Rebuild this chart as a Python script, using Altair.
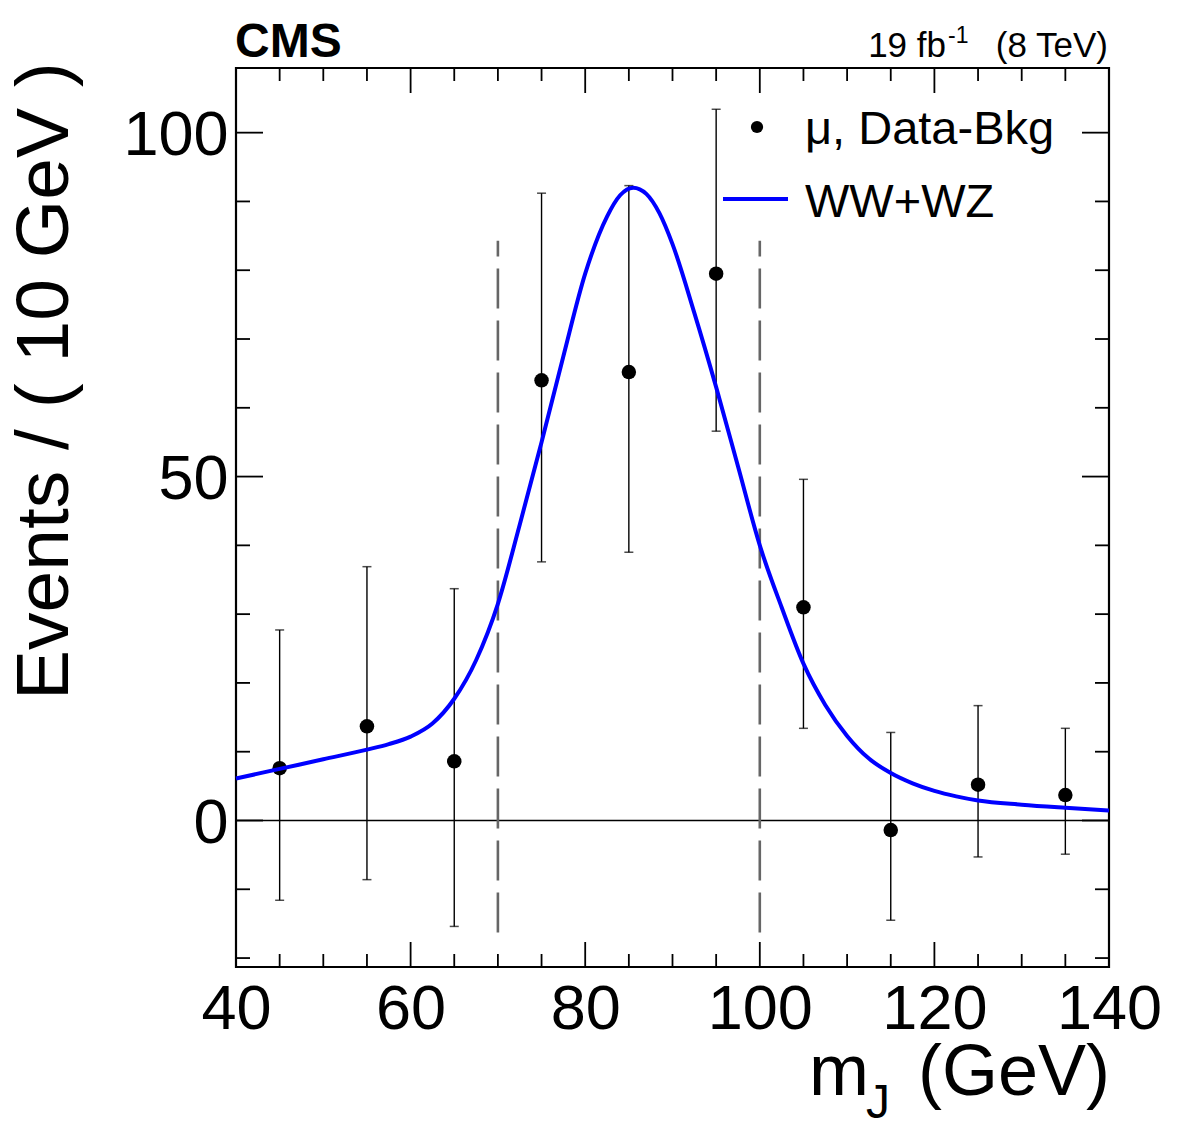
import altair as alt
import pandas as pd

# Data minus background, muon channel (10 GeV bins)
mass_bins = [45, 55, 65, 75, 85, 95, 105, 115, 125, 135]
events = [7.6, 13.7, 8.6, 64.0, 65.2, 79.5, 31.0, -1.4, 5.2, 3.7]
err_low = [-11.6, -8.6, -15.4, 37.6, 39.0, 56.6, 13.4, -14.5, -5.3, -4.9]
err_high = [27.7, 36.9, 33.7, 91.2, 92.3, 103.4, 49.6, 12.8, 16.7, 13.4]

# Fitted WW+WZ shape
fit_mass = [40, 45, 50, 55, 57.5, 60, 62.5, 65, 67.5, 70, 72.5, 75, 77.5, 80,
            82.5, 84, 85.5, 87, 88.5, 90, 92.5, 95, 97.5, 100, 102.5, 105,
            107.5, 110, 112.5, 115, 117.5, 120, 122.5, 125, 130, 135, 140]
fit_events = [6.1, 7.5, 8.9, 10.3, 11.1, 12.2, 14.1, 17.7, 23.3, 31.5, 43.0,
              55.0, 67.5, 79.5, 87.8, 90.9, 92.0, 91.1, 88.3, 83.8, 73.8, 63.0,
              51.5, 40.0, 31.0, 22.8, 16.8, 12.3, 9.0, 6.9, 5.4, 4.3, 3.5, 2.9,
              2.3, 1.85, 1.45]

# Signal window in jet mass
window_edges = [70, 100]
window_low = -16.3
window_high = 84.3

x_range = [40, 140]
y_range = [-21.3, 109.4]
x_labels = [40, 60, 80, 100, 120, 140]
y_labels = [0, 50, 100]
x_major = [60, 80, 100, 120]
x_minor = [v for v in range(45, 140, 5) if v % 20 != 0]
y_major = [0, 50, 100]
y_minor = [-20, -10, 10, 20, 30, 40, 60, 70, 80, 90]

W, H = 873, 899
FONT = "Liberation Sans"

xscale = alt.Scale(domain=x_range, nice=False, zero=False)
yscale = alt.Scale(domain=y_range, nice=False, zero=False)
x_axis = alt.Axis(values=x_labels, title=None, grid=False, domain=False,
                  ticks=False, tickSize=0, labelFontSize=63, labelFont=FONT,
                  labelColor="black", labelPadding=11, labelFlush=False,
                  labelOverlap=False)
y_axis = alt.Axis(values=y_labels, title=None, grid=False, domain=False,
                  ticks=False, tickSize=0, labelFontSize=63, labelFont=FONT,
                  labelColor="black", labelPadding=8, labelFlush=False,
                  labelOverlap=False, labelOffset=3)


def X(field):
    return alt.X(field, type="quantitative", scale=xscale, axis=x_axis)


def Y(field):
    return alt.Y(field, type="quantitative", scale=yscale, axis=y_axis)


pts = pd.DataFrame({"m": mass_bins, "n": events, "lo": err_low, "hi": err_high})
fit = pd.DataFrame({"m": fit_mass, "n": fit_events})
win = pd.DataFrame({"m": window_edges, "lo": [window_low] * 2, "hi": [window_high] * 2})

zero_line = alt.Chart(pd.DataFrame({"m0": [x_range[0]], "m1": [x_range[1]], "z": [0]})).mark_rule(
    color="black", strokeWidth=1.3).encode(x=X("m0"), x2="m1", y=Y("z"))

window = alt.Chart(win).mark_rule(color="#666666", strokeWidth=2.6, strokeDash=[40, 12]).encode(
    x=X("m"), y=Y("lo"), y2="hi")

bars = alt.Chart(pts).mark_rule(color="black", strokeWidth=1.4).encode(
    x=X("m"), y=Y("lo"), y2="hi")
caps_lo = alt.Chart(pts).mark_tick(color="black", orient="horizontal", size=9, thickness=1.5).encode(
    x=X("m"), y=Y("lo"))
caps_hi = alt.Chart(pts).mark_tick(color="black", orient="horizontal", size=9, thickness=1.5).encode(
    x=X("m"), y=Y("hi"))
dots = alt.Chart(pts).mark_circle(color="black", size=210, opacity=1).encode(
    x=X("m"), y=Y("n"))

curve = alt.Chart(fit).mark_line(color="#0000ff", strokeWidth=4, interpolate="monotone").encode(
    x=X("m"), y=Y("n"))


def xticks(vals, length):
    df = pd.DataFrame({"t": vals})
    bottom = alt.Chart(df).mark_rule(color="black", strokeWidth=1.8).encode(
        x=X("t"), y=alt.value(H), y2=alt.value(H - length))
    top = alt.Chart(df).mark_rule(color="black", strokeWidth=1.8).encode(
        x=X("t"), y=alt.value(0), y2=alt.value(length))
    return bottom + top


def yticks(vals, length):
    df = pd.DataFrame({"t": vals})
    left = alt.Chart(df).mark_rule(color="black", strokeWidth=1.8).encode(
        y=Y("t"), x=alt.value(0), x2=alt.value(length))
    right = alt.Chart(df).mark_rule(color="black", strokeWidth=1.8).encode(
        y=Y("t"), x=alt.value(W), x2=alt.value(W - length))
    return left + right


def label(text, x, y, size, align="left", weight="normal", angle=0, font=FONT):
    return alt.Chart(pd.DataFrame({"t": [text]})).mark_text(
        align=align, baseline="alphabetic", fontSize=size, fontWeight=weight,
        angle=angle, font=font, color="black").encode(
        x=alt.value(x), y=alt.value(y), text="t:N")


# Legend
leg_dot = alt.Chart(pd.DataFrame({"k": [0]})).mark_circle(color="black", size=150, opacity=1).encode(
    x=alt.value(521), y=alt.value(59))
leg_line = alt.Chart(pd.DataFrame({"k": [0]})).mark_rule(color="#0000ff", strokeWidth=4).encode(
    x=alt.value(487), x2=alt.value(552), y=alt.value(131))
leg_data = label("\u03bc, Data-Bkg", 569, 76, 47)
leg_fit = label("WW+WZ", 569, 149, 47)

# Titles and header
cms = label("CMS", -1, -11, 48, weight="bold")
lumi_a = label("19 fb", 710, -11, 35, align="right")
lumi_sup = label("-1", 712, -25, 23)
lumi_b = label("(8 TeV)", 872, -11, 35, align="right")
ytitle = label("Events / ( 10 GeV )", -168, 632, 75, angle=270)
xtitle_m = label("m", 573, 1027, 72)
xtitle_sub = label("J", 630, 1050, 48)
xtitle_unit = label("(GeV)", 874, 1027, 72, align="right")

chart = alt.layer(
    zero_line, window, bars, caps_lo, caps_hi, dots, curve,
    xticks(x_major, 25), xticks(x_minor, 13),
    yticks(y_major, 27), yticks(y_minor, 14),
    leg_dot, leg_line, leg_data, leg_fit,
    cms, lumi_a, lumi_sup, lumi_b, ytitle, xtitle_m, xtitle_sub, xtitle_unit,
).properties(
    width=W, height=H,
    background="white",
    padding={"left": 236, "top": 68, "right": 73, "bottom": 171},
    autosize=alt.AutoSizeParams(type="none"),
).configure_view(
    stroke="black", strokeWidth=2.2
)

chart.save("out.html", embed_options={"renderer": "svg", "actions": False})
